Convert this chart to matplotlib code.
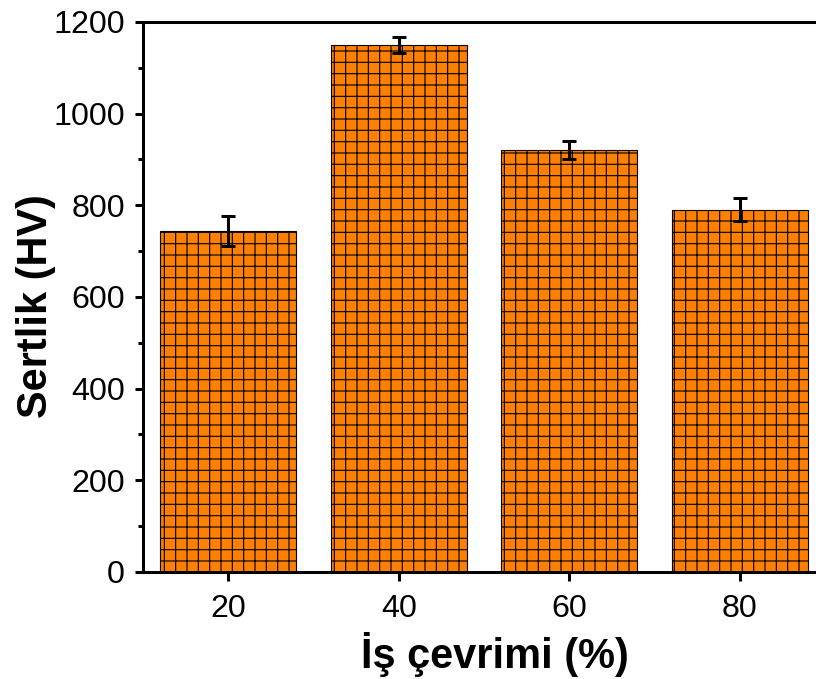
import matplotlib.pyplot as plt
from matplotlib.ticker import MultipleLocator

plt.rcParams['font.family'] = ['Liberation Sans', 'DejaVu Sans']
plt.rcParams['hatch.linewidth'] = 0.6

# Veriler
is_cevrimi = ['20', '40', '60', '80']
sertlik = [744, 1150, 920, 790]
hata = [33, 18, 20, 25]

fig = plt.figure(figsize=(6.0, 679 / 136), dpi=136)
ax = fig.add_axes([0.1752, 0.1576, 1.011 - 0.1752, 0.9676 - 0.1576])

x = range(len(is_cevrimi))
ax.bar(x, sertlik, width=0.8, color='#FF8000', edgecolor='black', linewidth=0.6,
       hatch='++', zorder=2)
ax.errorbar(x, sertlik, yerr=hata, fmt='none', ecolor='black', elinewidth=1.6,
            capsize=3.5, capthick=1.6, zorder=3)

ax.set_xlim(-0.5, 3.5)
ax.set_ylim(0, 1200)
ax.set_xticks(list(x))
ax.set_xticklabels(is_cevrimi)
ax.yaxis.set_major_locator(MultipleLocator(200))
ax.yaxis.set_minor_locator(MultipleLocator(100))

for s in ax.spines.values():
    s.set_linewidth(1.6)

ax.tick_params(axis='both', which='major', direction='out', length=4.5, width=1.6,
               labelsize=17, pad=5)
ax.tick_params(axis='x', which='major', pad=7)
ax.tick_params(axis='y', which='minor', direction='out', length=2.5, width=1.6)

ax.set_xlabel('İş çevrimi (%)', fontsize=22, fontweight='bold')
ax.set_ylabel('Sertlik (HV)', fontsize=22, fontweight='bold')
ax.xaxis.set_label_coords(0.516, -0.109)
ax.yaxis.set_label_coords(-0.128, 0.484)

fig.savefig('out.png', dpi=136)
